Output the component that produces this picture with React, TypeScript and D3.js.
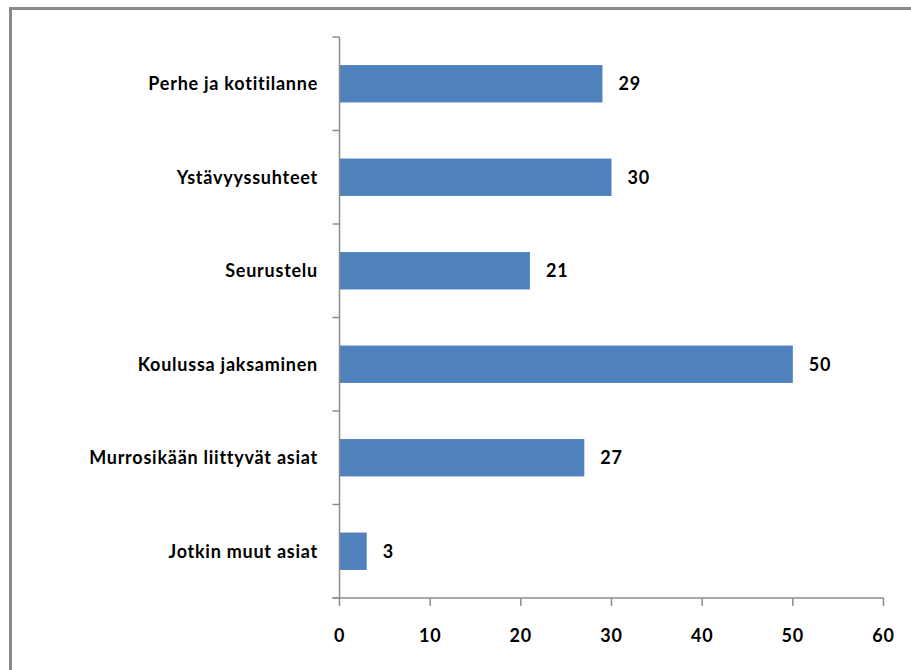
import React, { useEffect, useRef } from "react";
import * as d3 from "d3";

const categories = [
  "Perhe ja kotitilanne",
  "Ystävyyssuhteet",
  "Seurustelu",
  "Koulussa jaksaminen",
  "Murrosikään liittyvät asiat",
  "Jotkin muut asiat",
];
const values = [29, 30, 21, 50, 27, 3];
const xTicks = [0, 10, 20, 30, 40, 50, 60];

const W = 911;
const H = 670;
const FONT = "Lato, 'Open Sans', sans-serif";

export default function App() {
  const ref = useRef<SVGSVGElement>(null);
  useEffect(() => {
    const svg = d3.select(ref.current);
    svg.selectAll("*").remove();

    // outer frame
    svg
      .append("rect")
      .attr("x", 10.5)
      .attr("y", 8.5)
      .attr("width", 1200)
      .attr("height", 1200)
      .attr("fill", "none")
      .attr("stroke", "#8a8a8a")
      .attr("stroke-width", 3);

    const x0 = 339.5;
    const x1 = 883.5;
    const yTop = 37;
    const yBot = 598;

    const x = d3.scaleLinear().domain([0, 60]).range([x0, x1]);
    const y = d3
      .scaleBand<string>()
      .domain(categories)
      .range([yTop, yBot])
      .paddingInner(0.6)
      .paddingOuter(0.3);

    const textStyle = (sel: any, size: number, spacing: number) =>
      sel
        .attr("font-family", FONT)
        .attr("font-weight", "bold")
        .attr("font-size", size)
        .attr("letter-spacing", spacing)
        .attr("fill", "#000");

    // bars
    svg
      .append("g")
      .selectAll("rect")
      .data(values)
      .join("rect")
      .attr("x", x(0))
      .attr("y", (_, i) => y(categories[i])!)
      .attr("width", (d) => x(d) - x(0))
      .attr("height", y.bandwidth())
      .attr("fill", "#4F81BD");

    // value labels
    textStyle(
      svg
        .append("g")
        .selectAll("text")
        .data(values)
        .join("text")
        .attr("x", (d) => x(d) + 16)
        .attr("y", (_, i) => y(categories[i])! + y.bandwidth() / 2)
        .attr("dy", "0.35em"),
      18,
      0.8
    ).text((d: number) => String(d));

    const axisColor = "#8c8c8c";

    // y axis line
    svg
      .append("line")
      .attr("x1", x0)
      .attr("x2", x0)
      .attr("y1", yTop)
      .attr("y2", yBot)
      .attr("stroke", axisColor)
      .attr("stroke-width", 1.5);

    // y ticks at band boundaries
    const step = (yBot - yTop) / categories.length;
    const yTickPos = d3.range(categories.length + 1).map((i) => yTop + i * step);
    svg
      .append("g")
      .selectAll("line")
      .data(yTickPos)
      .join("line")
      .attr("x1", x0 - 7)
      .attr("x2", x0)
      .attr("y1", (d) => d)
      .attr("y2", (d) => d)
      .attr("stroke", axisColor)
      .attr("stroke-width", 1.5);

    // category labels
    textStyle(
      svg
        .append("g")
        .selectAll("text")
        .data(categories)
        .join("text")
        .attr("x", 318)
        .attr("y", (d) => y(d)! + y.bandwidth() / 2)
        .attr("dy", "0.35em")
        .attr("text-anchor", "end"),
      18,
      0.75
    ).text((d: string) => d);

    // x axis
    const xa = svg.append("g").attr("transform", `translate(0,${yBot})`);
    xa.append("line")
      .attr("x1", x0 - 7)
      .attr("x2", x1)
      .attr("stroke", axisColor)
      .attr("stroke-width", 1.5);
    xa.selectAll("line.t")
      .data(xTicks)
      .join("line")
      .attr("class", "t")
      .attr("x1", (d) => x(d))
      .attr("x2", (d) => x(d))
      .attr("y1", 0)
      .attr("y2", 8)
      .attr("stroke", axisColor)
      .attr("stroke-width", 1.5);
    textStyle(
      xa
        .selectAll("text")
        .data(xTicks)
        .join("text")
        .attr("x", (d) => x(d))
        .attr("y", 38)
        .attr("dy", "0.35em")
        .attr("text-anchor", "middle"),
      18,
      0.8
    ).text((d: number) => String(d));
  }, []);

  return (
    <svg
      ref={ref}
      width={W}
      height={H}
      style={{ position: "absolute", left: 0, top: 0, background: "#fff" }}
    />
  );
}
